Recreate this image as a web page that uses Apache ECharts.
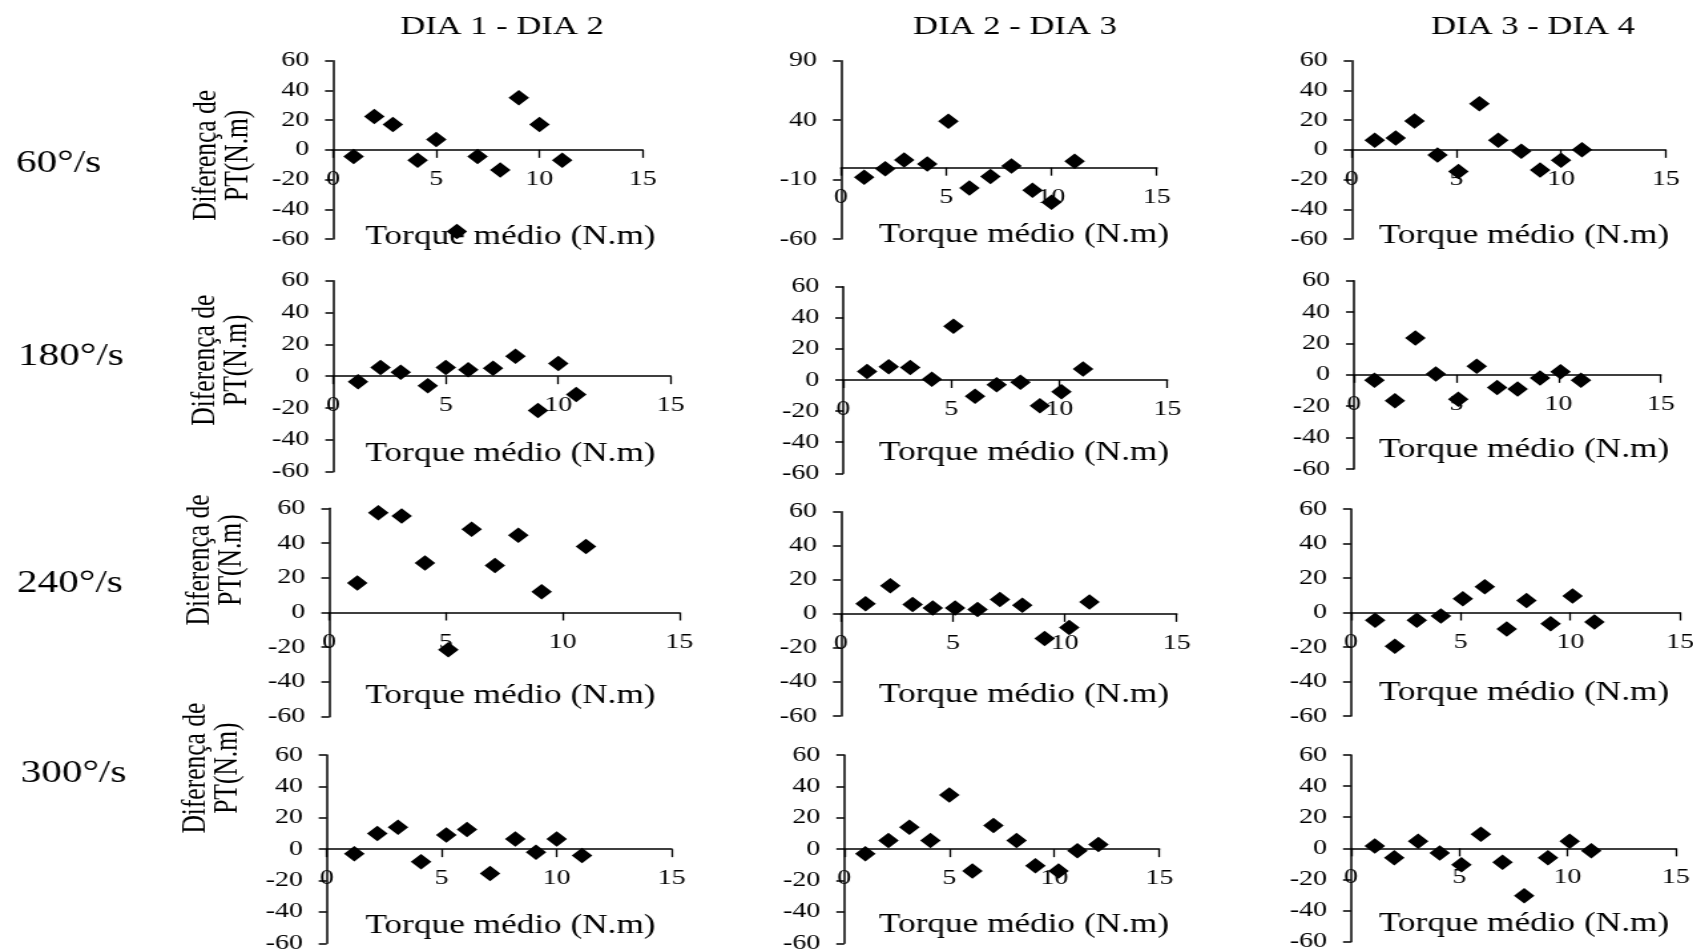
<!DOCTYPE html>
<html>
<head>
<meta charset="utf-8" />
<title>Diferença de PT</title>
<script src="https://cdn.jsdelivr.net/npm/echarts@6/dist/echarts.min.js"></script>
<style>
  html, body { margin: 0; padding: 0; background: #fff; overflow: hidden; }
  /* the original figure is stretched sideways, so we draw narrow and scale */
  #main { height: 952px; transform-origin: 0 0; }
</style>
</head>
<body>
<div id="main"></div>
<script type="text/javascript">
var SX = 1.33;
var FONT = 'Liberation Serif';

var velocidades = ['60°/s', '180°/s', '240°/s', '300°/s'];
var comparacoes = ['DIA 1 - DIA 2', 'DIA 2 - DIA 3', 'DIA 3 - DIA 4'];
var xTicks = [0, 5, 10, 15];
var yTicks = [-60, -40, -20, 0, 20, 40, 60];
var yTicks90 = [-60, -10, 40, 90];

// 60°/s
var x60_12 = [1.0, 2.0, 2.9, 4.1, 5.0, 6.0, 7.0, 8.1, 9.0, 10.0, 11.1];
var y60_12 = [-4.5, 22.5, 17, -7, 7, -55, -4.5, -13.5, 35, 17, -7];
var x60_23 = [1.1, 2.1, 3.0, 4.1, 5.1, 6.1, 7.1, 8.1, 9.1, 10.0, 11.1];
var y60_23 = [-8, -1, 6.5, 3, 39, -17, -7.5, 1.5, -19, -29, 5.5];
var x60_34 = [1.1, 2.1, 3.0, 4.1, 5.1, 6.1, 7.0, 8.1, 9.0, 10.0, 11.0];
var y60_34 = [6.5, 8, 19.5, -3.5, -14.5, 31, 6.5, -1, -13.5, -7, 0];
// 180°/s
var x180_12 = [1.1, 2.1, 3.0, 4.2, 5.0, 6.0, 7.1, 8.1, 9.1, 10.0, 10.8];
var y180_12 = [-3.5, 5.5, 2.5, -6, 5.5, 4, 5, 12.5, -21.5, 8, -11.5];
var x180_23 = [1.1, 2.1, 3.1, 4.1, 5.1, 6.1, 7.1, 8.2, 9.1, 10.1, 11.1];
var y180_23 = [5.5, 8.5, 8, 0.5, 34.5, -10.5, -3, -1.5, -16.5, -7.5, 7];
var x180_34 = [1.0, 2.0, 3.0, 4.0, 5.1, 6.0, 7.0, 8.0, 9.1, 10.1, 11.1];
var y180_34 = [-3.5, -16.5, 23.5, 0.5, -15.5, 5.5, -8, -9, -2, 2, -3.5];
// 240°/s
var x240_12 = [1.2, 2.1, 3.1, 4.1, 5.1, 6.1, 7.1, 8.1, 9.1, 11.0];
var y240_12 = [17, 57.5, 55.5, 28.5, -21.5, 48, 27, 44.5, 12, 38];
var x240_23 = [1.1, 2.2, 3.2, 4.1, 5.1, 6.1, 7.1, 8.1, 9.1, 10.2, 11.1];
var y240_23 = [6, 16.5, 5.5, 3.5, 3.5, 2.5, 8.5, 5, -14.5, -8, 7];
var x240_34 = [1.1, 2.0, 3.0, 4.1, 5.1, 6.1, 7.1, 8.0, 9.1, 10.1, 11.1];
var y240_34 = [-4.5, -19.5, -4.5, -2, 8, 15, -9.5, 7, -6.5, 9.5, -5.5];
// 300°/s
var x300_12 = [1.2, 2.2, 3.1, 4.1, 5.2, 6.1, 7.1, 8.2, 9.1, 10.0, 11.1];
var y300_12 = [-3, 10, 14, -8, 9, 12.5, -15.5, 6.5, -2, 6.5, -4];
var x300_23 = [1.0, 2.1, 3.1, 4.1, 5.0, 6.1, 7.1, 8.2, 9.1, 10.2, 11.1, 12.1];
var y300_23 = [-3, 5.5, 14, 5.5, 34.5, -14, 15, 5.5, -10.5, -14, -1, 3];
var x300_34 = [1.1, 2.0, 3.1, 4.1, 5.1, 6.0, 7.0, 8.0, 9.1, 10.1, 11.1];
var y300_34 = [1.5, -6, 4.5, -3, -10.5, 9, -9, -30.5, -6, 4.5, -1.5];

var paineis = [
	[x60_12, y60_12, yTicks], [x60_23, y60_23, yTicks90], [x60_34, y60_34, yTicks],
	[x180_12, y180_12, yTicks], [x180_23, y180_23, yTicks], [x180_34, y180_34, yTicks],
	[x240_12, y240_12, yTicks], [x240_23, y240_23, yTicks], [x240_34, y240_34, yTicks],
	[x300_12, y300_12, yTicks], [x300_23, y300_23, yTicks], [x300_34, y300_34, yTicks]
];

// plot boxes on the page: left, top, right, bottom
var caixas = [
	[333, 60.7, 642.7, 239], [841, 60.7, 1156.7, 239], [1351.7, 60.7, 1665.7, 239],
	[333.3, 280.7, 670.7, 471.7], [843.3, 286.7, 1167.3, 473.3], [1354, 280.7, 1660.7, 469],
	[329.3, 508.3, 679.3, 716.7], [841, 511.7, 1176.7, 716], [1351, 509, 1680, 716],
	[326.7, 755, 671.7, 943.3], [844.3, 755, 1159.3, 943.3], [1351, 755, 1675.7, 941.7]
];
var gapNomeX = [87, 67, 86, 78, 73, 75, 84, 81, 81, 77, 76, 76];
var centroNomeX = [510.5, 1024, 1524];
var gapNomeY = [83, 84, 85, 86];
var subirNomeY = [-5.5, 16, 52.5, 81];

var tituloX = [502, 1015, 1533];
var rotuloPos = [[16, 164], [18, 357], [17, 584], [20.5, 774]];

document.getElementById('main').style.width = (1693 / SX) + 'px';
document.getElementById('main').style.transform = 'scaleX(' + SX + ')';
var myChart = echarts.init(document.getElementById('main'));

var grids = [], xAxes = [], yAxes = [], series = [];
paineis.forEach(function (p, i) {
	var c = caixas[i];
	var row = Math.floor(i / 3), col = i % 3;
	var ticks = p[2];
	var ymin = ticks[0], ymax = ticks[ticks.length - 1];
	var h = c[3] - c[1];
	grids.push({ left: c[0] / SX, top: c[1], width: (c[2] - c[0]) / SX, height: h,
		outerBoundsMode: 'none', containLabel: false });
	var shift = (centroNomeX[col] - (c[0] + c[2]) / 2) / SX;
	// x axis sits on y = 0, labels and title go with it
	xAxes.push({
		type: 'value', gridIndex: i, min: 0, max: 15, interval: 5,
		position: 'bottom', offset: -h * (0 - ymin) / (ymax - ymin),
		name: 'Torque médio (N.m)', nameLocation: 'middle', nameGap: gapNomeX[i],
		nameTextStyle: { fontFamily: FONT, fontSize: 26.5, color: '#000', verticalAlign: 'middle',
			padding: [0, 0, 0, 2 * shift] },
		axisLine: { onZero: false, lineStyle: { color: '#000', width: 1.6 } },
		axisTick: { show: true, length: 8, lineStyle: { color: '#000', width: 1.3 } },
		axisLabel: { fontFamily: FONT, fontSize: 21, color: '#000', margin: 19, customValues: xTicks },
		splitLine: { show: false }
	});
	var ya = {
		type: 'value', gridIndex: i, min: ymin, max: ymax,
		axisLine: { show: true, onZero: false, lineStyle: { color: '#000', width: 1.5 } },
		axisTick: { show: true, length: 6, customValues: ticks, lineStyle: { color: '#000', width: 1.5 } },
		axisLabel: { fontFamily: FONT, fontSize: 21, color: '#000', margin: 18, customValues: ticks },
		splitLine: { show: false }
	};
	if (col === 0) {
		var up = subirNomeY[row];
		ya.name = 'Diferença de\nPT(N.m)';
		ya.nameLocation = 'middle';
		ya.nameGap = gapNomeY[row];
		ya.nameTextStyle = { fontFamily: FONT, fontSize: 25.5, lineHeight: 24, color: '#000',
			verticalAlign: 'middle', align: 'center',
			padding: up >= 0 ? [0, 0, 0, 2 * up] : [0, -2 * up, 0, 0] };
	}
	yAxes.push(ya);
	series.push({
		type: 'scatter', xAxisIndex: i, yAxisIndex: i,
		symbol: 'diamond', symbolSize: 15.5,
		itemStyle: { color: '#000', opacity: 1 },
		data: p[0].map(function (v, k) { return [v, p[1][k]]; })
	});
});

var textos = [];
comparacoes.forEach(function (t, j) {
	textos.push({ type: 'text', x: tituloX[j] / SX, y: 27,
		style: { text: t, fontFamily: FONT, fontSize: 26, fill: '#000', align: 'center', verticalAlign: 'middle' } });
});
velocidades.forEach(function (t, j) {
	textos.push({ type: 'text', x: rotuloPos[j][0] / SX, y: rotuloPos[j][1],
		style: { text: t, fontFamily: FONT, fontSize: 31, fill: '#000', align: 'left', verticalAlign: 'middle' } });
});

myChart.setOption({
	animation: false,
	backgroundColor: '#fff',
	grid: grids,
	xAxis: xAxes,
	yAxis: yAxes,
	graphic: textos,
	series: series
});
</script>
</body>
</html>
